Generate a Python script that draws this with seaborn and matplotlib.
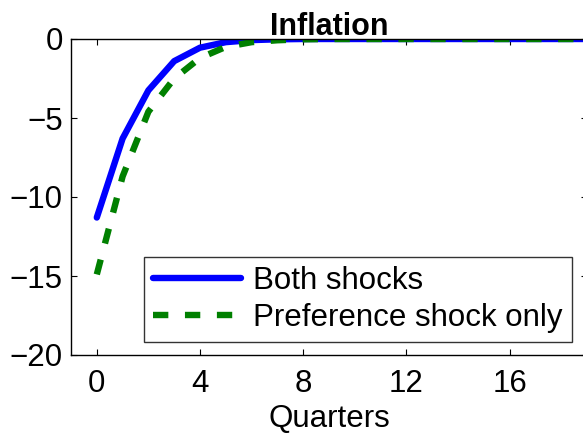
import matplotlib
matplotlib.use("Agg")
import matplotlib.pyplot as plt
import seaborn as sns
import pandas as pd

# Impulse responses of inflation (percent), by quarter
quarters = list(range(0, 20))
both_shocks = [-11.3, -6.3, -3.25, -1.4, -0.55, -0.2, -0.07, -0.02,
               0, 0, 0, 0, 0, 0, 0, 0, 0, 0, 0, 0]
preference_only = [-14.9, -8.7, -4.6, -2.5, -1.2, -0.5, -0.2, -0.08,
                   -0.02, 0, 0, 0, 0, 0, 0, 0, 0, 0, 0, 0]
xticks = [0, 4, 8, 12, 16]
yticks = [-20, -15, -10, -5, 0]

sns.set_theme(style="white")
plt.rcParams["font.family"] = ["Liberation Sans", "DejaVu Sans"]
plt.rcParams["axes.unicode_minus"] = True
for key in ["text.color", "axes.labelcolor", "xtick.color", "ytick.color",
            "axes.edgecolor"]:
    plt.rcParams[key] = "black"

df = pd.DataFrame({"q": quarters, "both": both_shocks, "pref": preference_only})

fig = plt.figure(figsize=(5.83, 4.37), dpi=100)
ax = fig.add_axes([71 / 583, 1 - 355 / 437, (587 - 71) / 583, (355 - 39) / 437])

sns.lineplot(data=df, x="q", y="both", ax=ax, color="#0000ff", linewidth=4.6,
             label="Both shocks")
sns.lineplot(data=df, x="q", y="pref", ax=ax, color="#008000", linewidth=4.6,
             linestyle=(0, (2.4, 2.6)), label="Preference shock only")

ax.set_xlim(-1, 19)
ax.set_ylim(-20, 0)
ax.set_xticks(xticks)
ax.set_yticks(yticks)
ax.set_xticklabels([str(t) for t in xticks])
ax.set_yticklabels(["\u2212" + str(-t) if t < 0 else str(t) for t in yticks])
ax.tick_params(direction="in", length=4, width=0.8, colors="black",
               labelsize=22.5, top=True, right=True, bottom=True, left=True)
ax.tick_params(axis="x", pad=10)
ax.tick_params(axis="y", pad=6)
for s in ax.spines.values():
    s.set_color("black")
    s.set_linewidth(1.0)
    s.set_visible(True)

ax.set_xlabel("Quarters", fontsize=22.5, labelpad=4)
ax.set_ylabel("")
ax.set_title("Inflation", fontsize=22, fontweight="bold", pad=3)

leg = ax.legend(loc="lower right", bbox_to_anchor=(572 / 583, 1 - 342 / 437),
                bbox_transform=fig.transFigure, borderaxespad=0, fontsize=22.5,
                handlelength=2.8, frameon=True, fancybox=False,
                borderpad=0.3, labelspacing=0.2, handletextpad=0.4)
leg.get_frame().set_edgecolor("black")
leg.get_frame().set_linewidth(1.0)
for t in leg.get_texts():
    t.set_color("black")

fig.savefig("out.png", dpi=100)
